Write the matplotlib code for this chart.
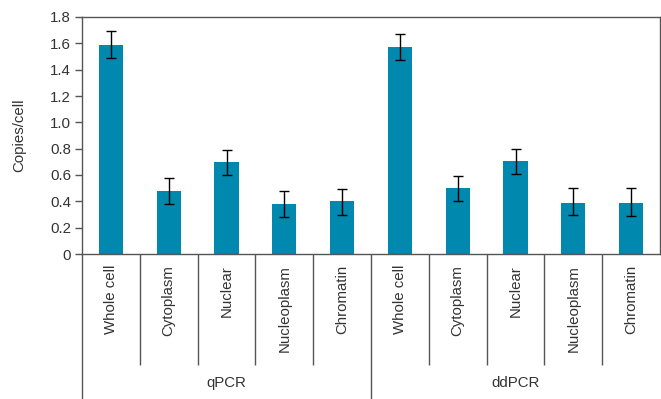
import matplotlib
matplotlib.use("Agg")
import matplotlib.pyplot as plt
import matplotlib.transforms as mtransforms
import numpy as np

categories = ["Whole cell", "Cytoplasm", "Nuclear", "Nucleoplasm", "Chromatin"]
groups = ["qPCR", "ddPCR"]
qpcr_values = [1.59, 0.48, 0.70, 0.38, 0.40]
qpcr_err_low = [0.10, 0.10, 0.10, 0.10, 0.10]
qpcr_err_high = [0.10, 0.10, 0.09, 0.10, 0.09]
ddpcr_values = [1.57, 0.50, 0.71, 0.39, 0.39]
ddpcr_err_low = [0.10, 0.10, 0.10, 0.09, 0.10]
ddpcr_err_high = [0.10, 0.09, 0.09, 0.11, 0.11]
yticks = [0, 0.2, 0.4, 0.6, 0.8, 1.0, 1.2, 1.4, 1.6, 1.8]
ytick_labels = ["0", "0.2", "0.4", "0.6", "0.8", "1.0", "1.2", "1.4", "1.6", "1.8"]

plt.rcParams['font.family'] = ['Liberation Sans', 'DejaVu Sans']
text_color = "#333333"
line_color = "#555555"
bar_color = "#0088AE"
fs = 10.8

values = qpcr_values + ddpcr_values
err = np.array([qpcr_err_low + ddpcr_err_low, qpcr_err_high + ddpcr_err_high])
labels = categories + categories
x = np.arange(len(values))

fig = plt.figure(figsize=(6.61, 3.99), dpi=100)
ax = fig.add_axes([82/661, 1-254/399, (660-82)/661, (254-17)/399])

ax.bar(x, values, width=0.42, color=bar_color, zorder=2)
ax.errorbar(x, values, yerr=err, fmt='none', ecolor='black', elinewidth=1.0,
            capsize=3.3, capthick=1.0, zorder=3)

ax.set_xlim(-0.5, len(values) - 0.5)
ax.set_ylim(0, 1.8)
ax.set_yticks(yticks)
ax.set_yticklabels(ytick_labels, fontsize=fs, color=text_color)
ax.set_xticks([])
ax.tick_params(axis='y', direction='out', length=5, width=1, color=line_color, pad=3)
for s in ['top', 'left', 'right', 'bottom']:
    ax.spines[s].set_color(line_color)
    ax.spines[s].set_linewidth(1.0)
ax.set_ylabel("Copies/cell", fontsize=fs, color=text_color)
ax.yaxis.set_label_coords((26 - 82) / 578, 0.5)

trans = mtransforms.blended_transform_factory(ax.transData, ax.transAxes)
n = len(categories)
for i in range(len(values) + 1):
    xb = i - 0.5
    if i % n == 0:
        if i == len(values):
            continue
        y0 = -0.612
    else:
        y0 = -0.468
    ax.plot([xb, xb], [0, y0], transform=trans, color=line_color, lw=1.0,
            clip_on=False, solid_capstyle='butt')

for i, lab in enumerate(labels):
    ax.text(i, -0.046, lab, transform=trans, rotation=90, ha='center', va='top',
            fontsize=fs, color=text_color)

for g, name in enumerate(groups):
    ax.text(g * n + (n - 1) / 2, -0.544, name, transform=trans, ha='center',
            va='center', fontsize=fs, color=text_color)

fig.savefig("out.png", dpi=100)
